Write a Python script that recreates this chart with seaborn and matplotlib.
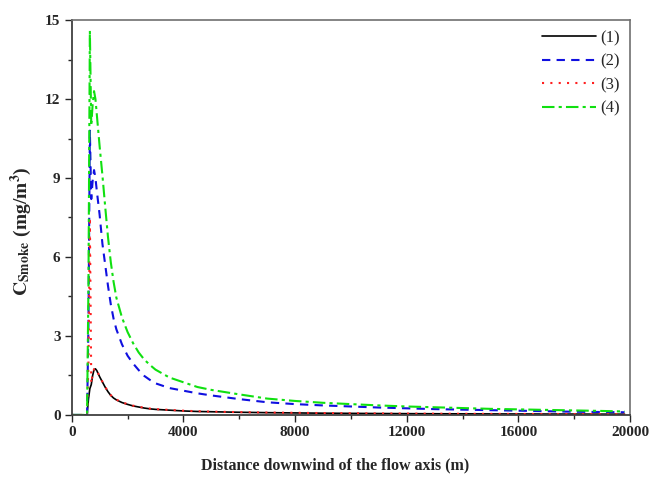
import numpy as np
import pandas as pd
import matplotlib
matplotlib.use("Agg")
import matplotlib.pyplot as plt
from matplotlib.ticker import MultipleLocator
import seaborn as sns

# Downwind distance (m) and smoke concentration (mg/m3) for four cases
distance = [0, 550, 600, 650, 700, 750, 800, 850, 900, 1000, 1100, 1200, 1300,
            1400, 1500, 1600, 1800, 2000, 2200, 2400, 2600, 2800, 3000, 3500,
            4000, 4500, 5000, 6000, 7000, 8000, 9000, 10000, 11000, 12000,
            13000, 14000, 15000, 16000, 17000, 18000, 19000, 19800]

case1 = [0, 0, 0.6, 1.0, 1.15, 1.5, 1.72, 1.75, 1.68, 1.45, 1.25, 1.05, 0.88,
         0.74, 0.64, 0.57, 0.47, 0.40, 0.34, 0.30, 0.26, 0.23, 0.21, 0.18,
         0.15, 0.13, 0.12, 0.10, 0.085, 0.075, 0.065, 0.058, 0.052, 0.047,
         0.043, 0.040, 0.037, 0.035, 0.033, 0.031, 0.029, 0.028]

case2 = [0, 0, 3.5, 10.8, 8.2, 8.9, 9.3, 9.0, 8.5, 7.6, 6.5, 5.7, 4.9,
         4.2, 3.65, 3.25, 2.68, 2.25, 1.95, 1.7, 1.48, 1.33, 1.2, 1.02,
         0.92, 0.82, 0.74, 0.6, 0.48, 0.41, 0.36, 0.32, 0.28, 0.25,
         0.22, 0.2, 0.18, 0.16, 0.14, 0.12, 0.11, 0.10]

case3 = [0, 0, 2.0, 7.5, 1.2, 1.55, 1.74, 1.77, 1.69, 1.46, 1.26, 1.06, 0.89,
         0.75, 0.65, 0.58, 0.48, 0.41, 0.35, 0.31, 0.27, 0.24, 0.22, 0.19,
         0.16, 0.14, 0.125, 0.105, 0.09, 0.08, 0.07, 0.062, 0.055, 0.05,
         0.046, 0.042, 0.039, 0.036, 0.034, 0.032, 0.030, 0.029]

case4 = [0, 0, 5.0, 14.6, 11.0, 11.8, 12.3, 12.0, 11.4, 10.2, 9.1, 7.9, 6.75,
         5.8, 5.05, 4.45, 3.7, 3.15, 2.72, 2.37, 2.1, 1.9, 1.72, 1.42,
         1.24, 1.06, 0.95, 0.78, 0.62, 0.53, 0.46, 0.41, 0.36, 0.32,
         0.29, 0.26, 0.23, 0.21, 0.19, 0.17, 0.15, 0.13]

labels = ["(1)", "(2)", "(3)", "(4)"]
x_ticks = [0, 4000, 8000, 12000, 16000, 20000]
y_ticks = [0, 3, 6, 9, 12, 15]

sns.set_theme(style="white")
plt.rcParams["font.family"] = ["Liberation Serif", "DejaVu Serif"]
plt.rcParams["mathtext.fontset"] = "stix"

df = pd.DataFrame({"distance": distance, labels[0]: case1, labels[1]: case2,
                   labels[2]: case3, labels[3]: case4})
long = df.melt(id_vars="distance", var_name="case", value_name="conc")

fig = plt.figure(figsize=(6.64, 4.78), dpi=100)
ax = fig.add_axes([0.108, 0.132, 0.841, 0.826])

styles = {
    "(1)": dict(color="black", linestyle="-", linewidth=1.2),
    "(2)": dict(color="#1010e0", linestyle=(0, (4, 3)), linewidth=1.5),
    "(3)": dict(color="#ff2020", linestyle=(0, (1, 3)), linewidth=1.5),
    "(4)": dict(color="#10e010", linestyle=(0, (6, 2, 1.5, 2)), linewidth=1.5),
}
for lab in labels:
    sns.lineplot(data=long[long["case"] == lab], x="distance", y="conc",
                 ax=ax, label=lab, **styles[lab])

ax.set_xlim(0, 20000)
ax.set_ylim(0, 15)
ax.set_xticks(x_ticks)
ax.set_yticks(y_ticks)
ax.xaxis.set_minor_locator(MultipleLocator(2000))
ax.yaxis.set_minor_locator(MultipleLocator(1.5))
ax.tick_params(axis="both", which="major", direction="out", length=5,
               width=1, bottom=True, left=True, labelsize=11, pad=3)
ax.tick_params(axis="both", which="minor", direction="out", length=3,
               width=1, bottom=True, left=True)
for t in ax.get_xticklabels() + ax.get_yticklabels():
    t.set_fontweight("bold")

for side in ["top", "right"]:
    ax.spines[side].set_color("#707070")
    ax.spines[side].set_linewidth(1.2)
for side in ["left", "bottom"]:
    ax.spines[side].set_color("#404040")
    ax.spines[side].set_linewidth(1.3)

ax.set_xlabel("Distance downwind of the flow axis (m)", fontsize=11.5,
              fontweight="bold")
ax.xaxis.set_label_coords(0.472, -0.108)
ax.set_ylabel(r"$\mathbf{C}_{\mathbf{Smoke}}$ (mg/m$^{\mathbf{3}}$)",
              fontsize=14, fontweight="bold")
ax.yaxis.set_label_coords(-0.068, 0.465)

leg = ax.legend(loc="upper right", frameon=False, fontsize=12,
                handlelength=3.2, handletextpad=0.3, labelspacing=0.45,
                borderaxespad=0.2)

fig.savefig("out.png", dpi=100)
